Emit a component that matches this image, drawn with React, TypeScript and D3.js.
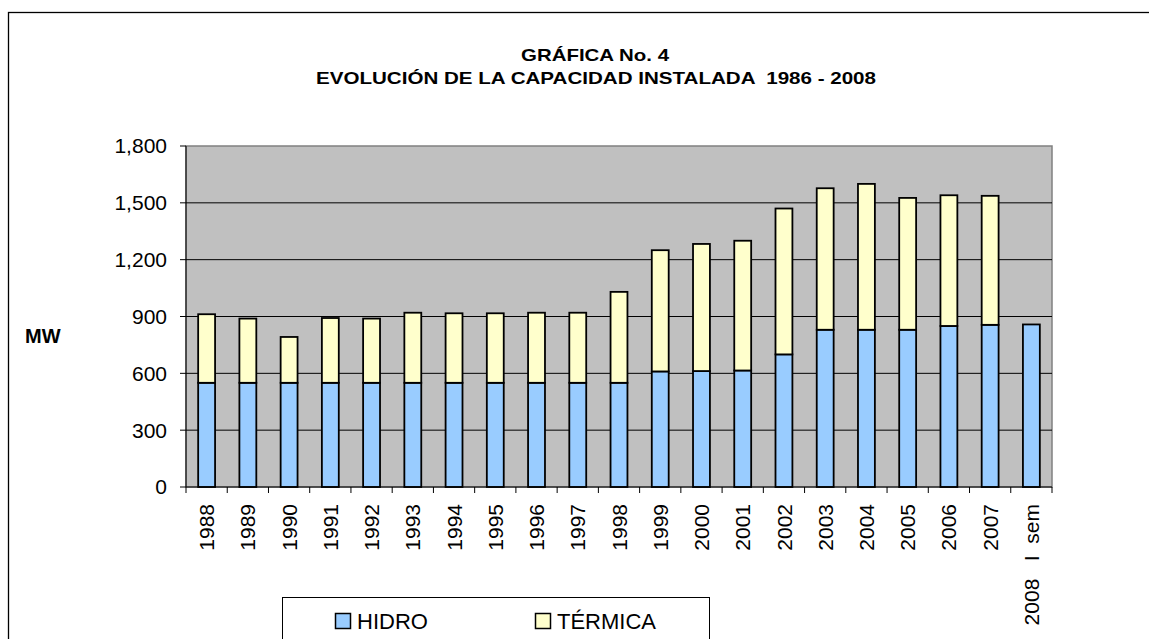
import React from "react";
import { scaleBand, scaleLinear } from "d3";

const years = [
  "1988", "1989", "1990", "1991", "1992", "1993", "1994", "1995", "1996", "1997",
  "1998", "1999", "2000", "2001", "2002", "2003", "2004", "2005", "2006", "2007",
  "2008   I  sem",
];
const hidro = [550, 550, 550, 550, 550, 550, 550, 550, 550, 550, 550, 610, 612, 615, 700, 830, 830, 830, 850, 856, 858];
const termica = [362, 339, 242, 342, 339, 370, 367, 367, 370, 370, 480, 640, 671, 685, 770, 747, 770, 696, 690, 681, 0];
const yTicks = [0, 300, 600, 900, 1200, 1500, 1800];

const W = 1149;
const H = 639;
const PLOT = { left: 186, right: 1052, top: 146, bottom: 487 };
const FONT = "'Liberation Sans', Arial, sans-serif";
const BLUE = "#99CCFF";
const YELLOW = "#FFFFCC";

const fmt = (v: number) => v.toLocaleString("en-US");

export default function App() {
  const x = scaleBand<string>().domain(years).range([PLOT.left, PLOT.right]).padding(0);
  const y = scaleLinear().domain([0, 1800]).range([PLOT.bottom, PLOT.top]);
  const bw = x.bandwidth();
  const barW = bw * 0.41;

  return (
    <svg width={W} height={H} style={{ position: "absolute", left: 0, top: 0 }} fontFamily={FONT}>
      <rect x={0} y={0} width={W} height={H} fill="#fff" />
      <rect x={8.5} y={12.5} width={1300} height={800} fill="#fff" stroke="#000" strokeWidth={1.3} />

      {/* title, slightly stretched horizontally like the original */}
      <text x={595} y={61} textAnchor="middle" fontWeight="bold" fontSize={17}
        textLength={148} lengthAdjust="spacingAndGlyphs">GRÁFICA No. 4</text>
      <text x={596} y={84} textAnchor="middle" fontWeight="bold" fontSize={17}
        textLength={560} lengthAdjust="spacingAndGlyphs" style={{ whiteSpace: "pre" }}>
        EVOLUCIÓN DE LA CAPACIDAD INSTALADA  1986 - 2008
      </text>

      <rect x={PLOT.left} y={PLOT.top} width={PLOT.right - PLOT.left} height={PLOT.bottom - PLOT.top}
        fill="#C0C0C0" stroke="#808080" strokeWidth={1.5} />

      {yTicks.filter((t) => t > 0 && t < 1800).map((t) => (
        <line key={t} x1={PLOT.left} x2={PLOT.right} y1={y(t)} y2={y(t)} stroke="#000" strokeWidth={1} />
      ))}

      {years.map((yr, i) => {
        const bx = (x(yr) as number) + (bw - barW) / 2;
        return (
          <g key={yr} stroke="#000" strokeWidth={1.8}>
            <rect x={bx} y={y(hidro[i])} width={barW} height={y(0) - y(hidro[i])} fill={BLUE} />
            {termica[i] > 0 && (
              <rect x={bx} y={y(hidro[i] + termica[i])} width={barW}
                height={y(hidro[i]) - y(hidro[i] + termica[i])} fill={YELLOW} />
            )}
          </g>
        );
      })}

      <line x1={PLOT.left} x2={PLOT.left} y1={PLOT.top} y2={PLOT.bottom} stroke="#000" strokeWidth={1} />
      <line x1={PLOT.left} x2={PLOT.right} y1={PLOT.bottom} y2={PLOT.bottom} stroke="#000" strokeWidth={1} />

      {yTicks.map((t) => (
        <g key={t}>
          <line x1={PLOT.left - 6} x2={PLOT.left} y1={y(t)} y2={y(t)} stroke="#000" />
          <text x={PLOT.left - 19} y={y(t)} dy="0.35em" textAnchor="end" fontSize={21}>{fmt(t)}</text>
        </g>
      ))}

      {[...years.map((yr) => x(yr) as number), PLOT.right].map((tx, i) => (
        <line key={i} x1={tx} x2={tx} y1={PLOT.bottom} y2={PLOT.bottom + 6} stroke="#000" />
      ))}

      {years.map((yr) => {
        const cx = (x(yr) as number) + bw / 2;
        return (
          <text key={yr} transform={`translate(${cx},504) rotate(-90)`} textAnchor="end" dy="0.36em"
            fontSize={21} style={{ whiteSpace: "pre" }}>
            {yr}
          </text>
        );
      })}

      <text x={25} y={343} fontWeight="bold" fontSize={20}>MW</text>

      <rect x={282.5} y={597.5} width={427} height={80} fill="#fff" stroke="#000" strokeWidth={1} />
      <rect x={335.5} y={613.5} width={15} height={15} fill={BLUE} stroke="#000" strokeWidth={1.5} />
      <text x={357} y={629} fontSize={22}>HIDRO</text>
      <rect x={535.5} y={613.5} width={15} height={15} fill={YELLOW} stroke="#000" strokeWidth={1.5} />
      <text x={557} y={629} fontSize={22}>TÉRMICA</text>
    </svg>
  );
}
